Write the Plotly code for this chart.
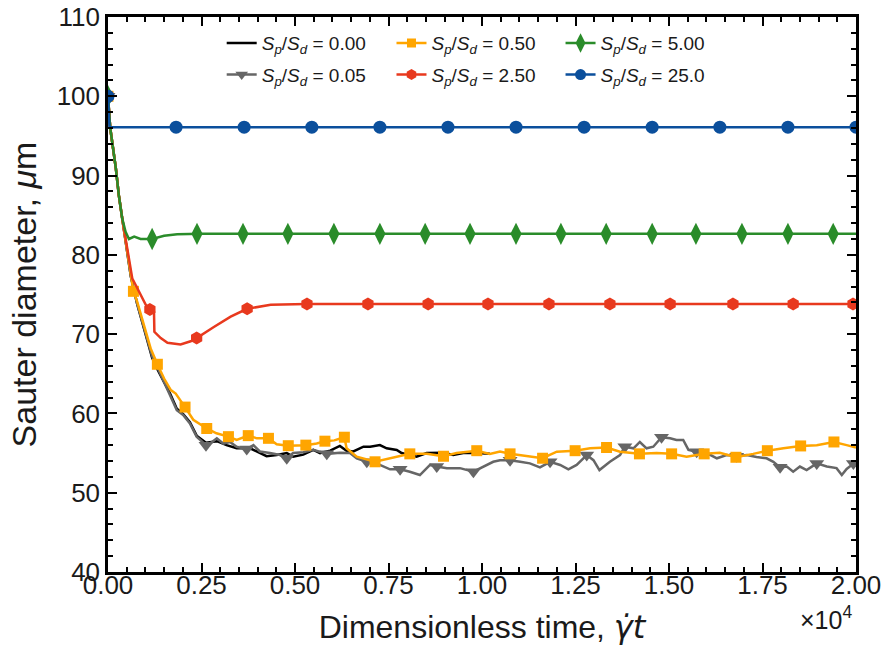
import plotly.graph_objects as go

# Time in units of 1e4 (dimensionless shear time), Sauter diameter in micrometres

# S_p/S_d = 25.0
t_25 = [0.0, 0.004, 0.182, 0.364, 0.545, 0.727, 0.909, 1.091, 1.273, 1.455, 1.636, 1.818, 2.0]
d_25 = [100.0, 96.1, 96.1, 96.1, 96.1, 96.1, 96.1, 96.1, 96.1, 96.1, 96.1, 96.1, 96.1]
tm_25 = [0.0, 0.182, 0.364, 0.545, 0.727, 0.909, 1.091, 1.273, 1.455, 1.636, 1.818, 2.0]
dm_25 = [100.0, 96.1, 96.1, 96.1, 96.1, 96.1, 96.1, 96.1, 96.1, 96.1, 96.1, 96.1]

# S_p/S_d = 5.00
t_5 = [0.0, 0.006, 0.021, 0.029, 0.038, 0.047, 0.056, 0.070, 0.087, 0.118, 0.150, 0.185, 0.250, 2.0]
d_5 = [100.0, 96.0, 90.9, 87.5, 84.6, 82.9, 82.0, 82.3, 82.0, 82.0, 82.4, 82.6, 82.65, 82.65]
tm_5 = [0.0, 0.118, 0.238, 0.361, 0.481, 0.604, 0.727, 0.848, 0.968, 1.091, 1.211,
        1.332, 1.455, 1.572, 1.695, 1.818, 1.939]
dm_5 = [100.0, 82.0] + [82.65] * 15

# S_p/S_d = 2.50
t_2p5 = [0.0, 0.006, 0.021, 0.029, 0.038, 0.045, 0.056, 0.065, 0.074, 0.087, 0.101, 0.112,
         0.123, 0.124, 0.141, 0.159, 0.194, 0.221, 0.237, 0.283, 0.328, 0.372, 0.435, 0.531,
         0.600, 2.0]
d_2p5 = [100.0, 96.0, 90.9, 87.5, 84.6, 82.5, 79.6, 77.0, 76.2, 74.9, 73.7, 73.1,
         72.8, 70.3, 69.5, 68.9, 68.7, 69.1, 69.5, 70.9, 72.2, 73.2, 73.7, 73.8,
         73.8, 73.8]
tm_2p5 = [0.0, 0.112, 0.237, 0.372, 0.532, 0.695, 0.856, 1.016, 1.179, 1.342, 1.503,
          1.671, 1.832, 1.992]
dm_2p5 = [100.0, 73.1, 69.5, 73.2] + [73.8] * 10

# S_p/S_d = 0.50
t_0p5 = [0.0, 0.006, 0.021, 0.029, 0.038, 0.045, 0.052, 0.061, 0.068, 0.078, 0.096, 0.114,
         0.132, 0.150, 0.168, 0.181, 0.206, 0.228, 0.264, 0.290, 0.322, 0.344, 0.375, 0.398,
         0.429, 0.451, 0.482, 0.505, 0.529, 0.558, 0.580, 0.605, 0.632, 0.638, 0.665, 0.714,
         0.754, 0.807, 0.852, 0.897, 0.932, 0.986, 1.021, 1.048, 1.075, 1.119, 1.162, 1.200,
         1.249, 1.289, 1.333, 1.369, 1.421, 1.467, 1.507, 1.547, 1.594, 1.636, 1.679, 1.725,
         1.763, 1.806, 1.852, 1.895, 1.941, 1.975, 2.0]
d_0p5 = [100.0, 96.0, 90.9, 87.5, 84.6, 82.5, 80.3, 77.5, 75.4, 74.1, 71.2, 68.2,
         66.2, 64.4, 62.95, 62.5, 60.8, 59.2, 58.1, 57.5, 57.07, 56.65, 57.2, 56.86,
         56.86, 56.1, 55.93, 56.0, 56.0, 56.2, 56.5, 56.6, 57.0, 55.6, 54.55, 53.9,
         54.3, 54.9, 54.9, 54.6, 55.0, 55.3, 54.9, 55.2, 54.9, 54.6, 54.35, 55.17,
         55.3, 55.6, 55.7, 55.17, 54.9, 55.0, 54.9, 54.55, 54.9, 55.05, 54.47, 54.9,
         55.3, 55.6, 55.9, 56.0, 56.4, 56.0, 55.7]
tm_0p5 = [0.0, 0.068, 0.132, 0.206, 0.264, 0.322, 0.375, 0.429, 0.482, 0.529, 0.580, 0.632,
          0.714, 0.807, 0.897, 0.986, 1.075, 1.162, 1.249, 1.333, 1.421, 1.507, 1.594,
          1.679, 1.763, 1.852, 1.941]
dm_0p5 = [100.0, 75.4, 66.2, 60.8, 58.1, 57.07, 57.2, 56.86, 55.93, 56.0, 56.5, 57.0,
          53.9, 54.9, 54.6, 55.3, 54.9, 54.35, 55.3, 55.7, 54.9, 54.9, 54.9,
          54.47, 55.3, 55.9, 56.4]

# S_p/S_d = 0.05
t_0p05 = [0.0, 0.006, 0.021, 0.029, 0.038, 0.045, 0.052, 0.061, 0.078, 0.100, 0.118, 0.134,
          0.166, 0.184, 0.201, 0.219, 0.237, 0.262, 0.273, 0.291, 0.308, 0.326, 0.344, 0.371,
          0.389, 0.406, 0.433, 0.460, 0.478, 0.495, 0.522, 0.549, 0.585, 0.620, 0.647, 0.665,
          0.692, 0.727, 0.754, 0.781, 0.807, 0.834, 0.861, 0.879, 0.906, 0.941, 0.977, 1.003,
          1.030, 1.048, 1.075, 1.102, 1.128, 1.155, 1.182, 1.209, 1.231, 1.253, 1.280, 1.298,
          1.314, 1.342, 1.369, 1.382, 1.405, 1.422, 1.440, 1.458, 1.480, 1.503, 1.520, 1.538,
          1.552, 1.574, 1.601, 1.628, 1.654, 1.681, 1.708, 1.734, 1.761, 1.779, 1.797, 1.815,
          1.832, 1.850, 1.868, 1.895, 1.922, 1.948, 1.962, 1.975, 1.993, 2.0]
d_0p05 = [100.0, 96.0, 90.9, 87.5, 84.6, 82.5, 80.0, 77.3, 73.8, 70.0, 67.2, 65.6,
          62.3, 60.4, 59.8, 58.75, 57.07, 56.0, 56.2, 56.86, 56.2, 56.4, 55.8, 55.5,
          56.0, 55.2, 55.0, 54.75, 54.34, 55.0, 55.1, 55.4, 54.9, 55.05, 55.0, 54.34,
          53.9, 53.5, 52.95, 52.95, 52.65, 52.23, 53.5, 53.3, 53.1, 53.1, 52.65, 53.3,
          53.9, 54.1, 54.1, 53.9, 53.7, 53.2, 53.9, 53.5, 52.95, 53.5, 54.75, 54.1,
          52.86, 53.9, 54.75, 55.8, 55.6, 56.4, 55.6, 55.8, 57.0, 56.86, 56.65, 56.65,
          55.4, 55.17, 55.0, 54.34, 54.75, 54.6, 54.75, 54.5, 54.34, 53.9, 53.2, 53.3,
          52.65, 53.3, 52.86, 53.7, 53.3, 53.1, 52.23, 53.0, 53.7, 53.9]
tm_0p05 = [0.0, 0.262, 0.371, 0.478, 0.585, 0.692, 0.781, 0.879, 0.977, 1.075, 1.182,
           1.280, 1.382, 1.480, 1.574, 1.681, 1.797, 1.895, 1.993]
dm_0p05 = [100.0, 56.0, 55.5, 54.34, 54.9, 53.9, 52.95, 53.3, 52.65, 54.1, 53.9,
           54.75, 55.8, 57.0, 55.17, 54.6, 53.2, 53.7, 53.7]

# S_p/S_d = 0.00 (run ends near 1.02e4)
t_0 = [0.0, 0.006, 0.021, 0.029, 0.038, 0.045, 0.052, 0.061, 0.078, 0.100, 0.118, 0.134,
       0.166, 0.184, 0.201, 0.219, 0.237, 0.262, 0.291, 0.317, 0.344, 0.380, 0.406, 0.424,
       0.451, 0.478, 0.495, 0.522, 0.549, 0.567, 0.594, 0.620, 0.638, 0.656, 0.683, 0.701,
       0.727, 0.745, 0.772, 0.785, 0.825, 0.852, 0.897, 0.923, 0.950, 0.986, 1.021]
d_0 = [100.0, 96.0, 90.9, 87.5, 84.6, 82.5, 80.0, 77.3, 73.8, 70.0, 67.0, 65.4,
       62.5, 60.6, 59.9, 58.9, 57.2, 56.3, 56.5, 56.0, 55.6, 55.6, 55.0, 54.6,
       54.75, 55.0, 54.55, 54.8, 55.4, 55.0, 55.3, 55.9, 55.3, 55.2, 55.8, 55.8,
       56.0, 55.6, 55.4, 55.0, 54.55, 55.0, 55.05, 54.75, 55.0, 55.0, 54.9]

ratio_labels = ["0.00", "0.05", "0.50", "2.50", "5.00", "25.0"]

BLACK = "#000000"
GRAY = "#666666"
ORANGE = "#FFA500"
RED = "#E8391E"
GREEN = "#2A8C2A"
BLUE = "#0B4F9C"

FONT = "Liberation Sans, Arial, sans-serif"
TXT = "#1a1a1a"

series = [
    # (label, t, d, marker t, marker d, colour, symbol, size)
    (ratio_labels[0], t_0, d_0, None, None, BLACK, None, 0),
    (ratio_labels[1], t_0p05, d_0p05, tm_0p05, dm_0p05, GRAY, "triangle-down", 13),
    (ratio_labels[2], t_0p5, d_0p5, tm_0p5, dm_0p5, ORANGE, "square", 11),
    (ratio_labels[3], t_2p5, d_2p5, tm_2p5, dm_2p5, RED, "hexagon", 13),
    (ratio_labels[4], t_5, d_5, tm_5, dm_5, GREEN, "diamond-tall", 16),
    (ratio_labels[5], t_25, d_25, tm_25, dm_25, BLUE, "circle", 13),
]

fig = go.Figure()

for lab, t, d, tm, dm, col, sym, sz in series:
    fig.add_trace(go.Scatter(x=t, y=d, mode="lines", line=dict(color=col, width=2.5),
                             showlegend=False, hoverinfo="skip"))
    if tm is not None:
        fig.add_trace(go.Scatter(x=tm, y=dm, mode="markers",
                                 marker=dict(symbol=sym, size=sz, color=col, line=dict(width=0)),
                                 showlegend=False, hoverinfo="skip"))

# Legend: three columns of two entries each, one legend box per entry
legend_pos = {
    "0.00": (0, 0), "0.05": (0, 1),
    "0.50": (1, 0), "2.50": (1, 1),
    "5.00": (2, 0), "25.0": (2, 1),
}
col_x = [0.152, 0.379, 0.605]
row_y = [0.953, 0.896]

layout_legends = {}
for i, (lab, t, d, tm, dm, col, sym, sz) in enumerate(series):
    c, r = legend_pos[lab]
    name = "legend" if i == 0 else f"legend{i + 1}"
    text = f"<i>S</i><sub><i>p</i></sub>/<i>S</i><sub><i>d</i></sub> = {lab}"
    if sym is None:
        fig.add_trace(go.Scatter(x=[None], y=[None], mode="lines", name=text,
                                 line=dict(color=col, width=2.5), legend=name))
    else:
        fig.add_trace(go.Scatter(x=[None], y=[None], mode="lines+markers", name=text,
                                 line=dict(color=col, width=2.5), legend=name,
                                 marker=dict(symbol=sym, size=sz - 2, color=col, line=dict(width=0))))
    layout_legends[name] = dict(
        x=col_x[c], y=row_y[r], xanchor="left", yanchor="middle",
        bgcolor="rgba(0,0,0,0)", borderwidth=0,
        font=dict(family=FONT, size=19, color=TXT),
        itemwidth=30,
    )

axis_common = dict(
    showline=True, linecolor="black", linewidth=2.5, mirror="allticks",
    ticks="inside", tickcolor="black", tickwidth=2, ticklen=9,
    showgrid=False, zeroline=False, automargin=False,
    tickfont=dict(family=FONT, size=26, color=TXT),
)

fig.update_layout(
    width=888, height=654,
    margin=dict(l=108, r=32, t=17, b=82),
    paper_bgcolor="white", plot_bgcolor="white",
    xaxis=dict(
        range=[0, 2.0], tick0=0, dtick=0.25, tickformat=".2f",
        ticklabelstandoff=-12,
        minor=dict(ticks="inside", dtick=0.05, ticklen=5, tickwidth=1.5, tickcolor="black"),
        title=dict(text="Dimensionless time, "
                        "<span style=\"font-family:'DejaVu Sans'\"><i>γ̇t</i></span>",
                   standoff=17,
                   font=dict(family=FONT, size=32, color=TXT)),
        **axis_common,
    ),
    yaxis=dict(
        range=[40, 110], tick0=40, dtick=10,
        minor=dict(ticks="inside", dtick=2, ticklen=5, tickwidth=1.5, tickcolor="black"),
        title=dict(text="Sauter diameter, <i>μ</i>m", standoff=10,
                   font=dict(family=FONT, size=34, color=TXT)),
        **axis_common,
    ),
    annotations=[dict(
        text="×10<sup>4</sup>", xref="paper", yref="paper", x=0.997, y=-0.051,
        xanchor="right", yanchor="top", showarrow=False,
        font=dict(family=FONT, size=25, color=TXT),
    )],
    **layout_legends,
)

fig.write_html("out.html")
